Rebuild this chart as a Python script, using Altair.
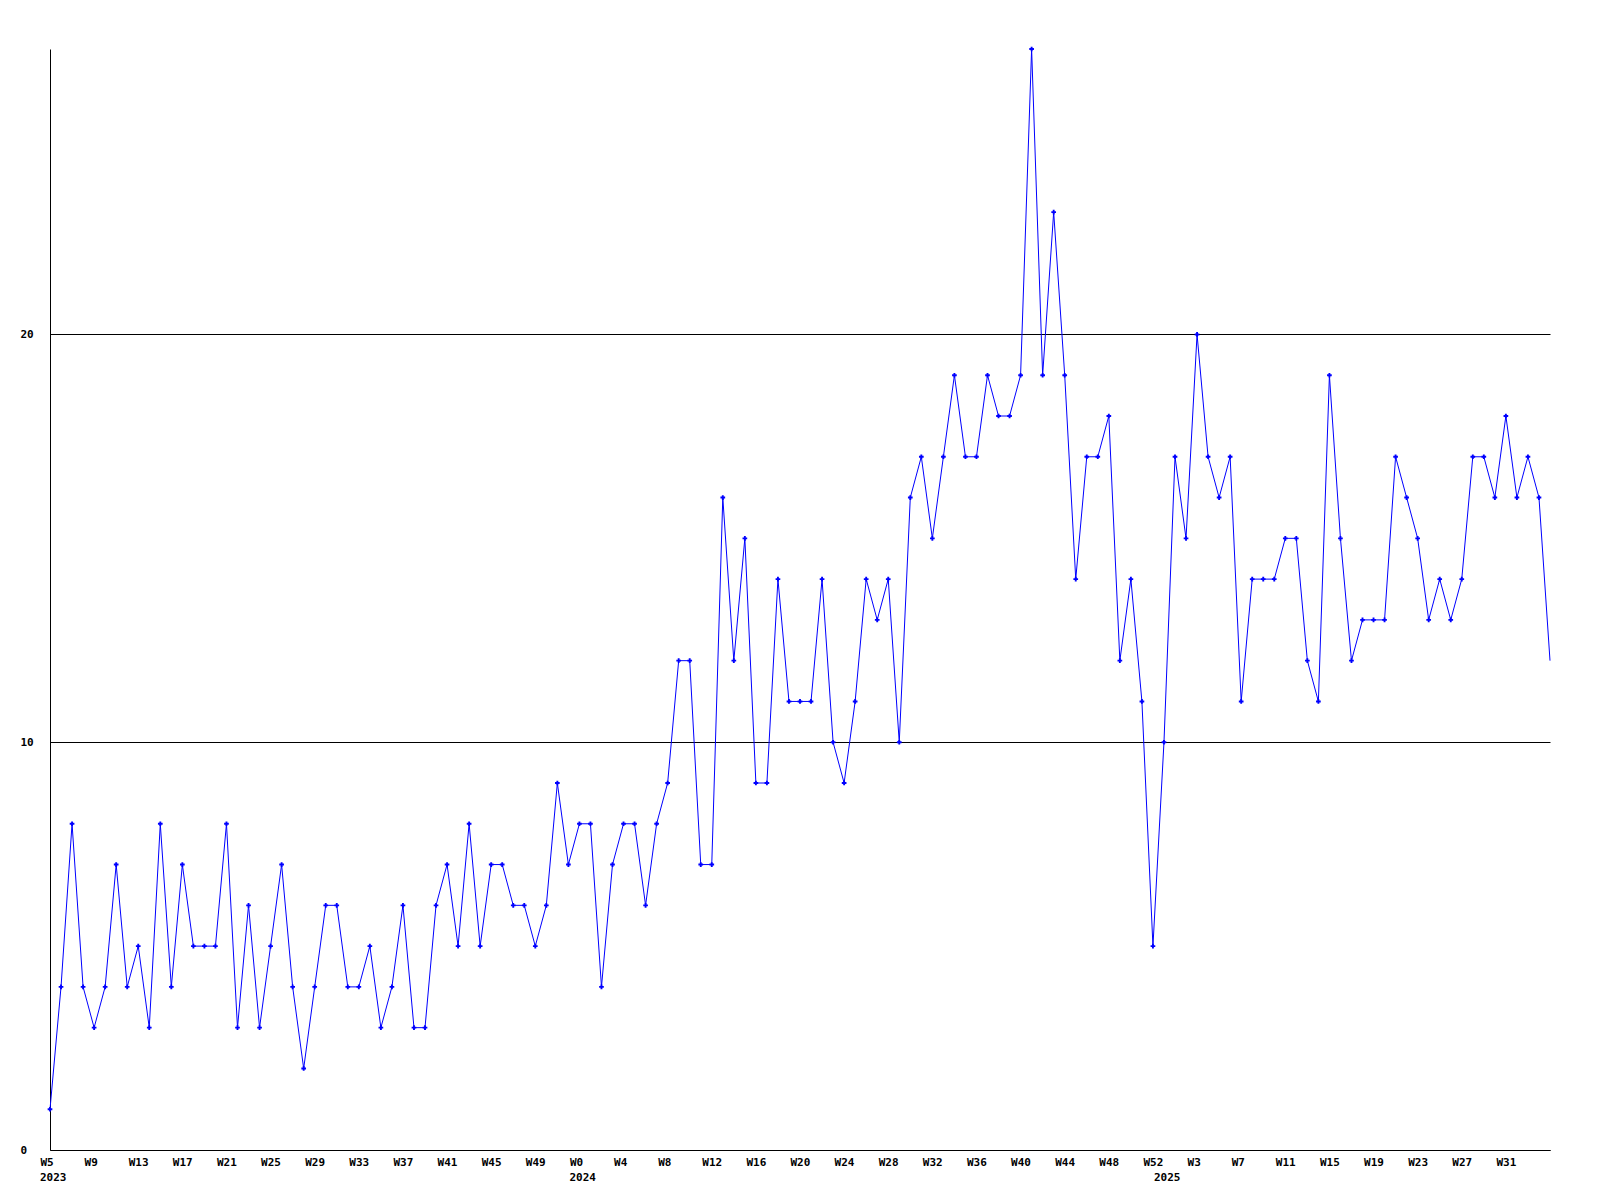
import altair as alt
import pandas as pd

# Weekly counts, 2023 W5 .. 2025 W35 (one value per week)
values = [
    1, 4, 8, 4, 3, 4, 7, 4, 5, 3,
    8, 4, 7, 5, 5, 5, 8, 3, 6, 3,
    5, 7, 4, 2, 4, 6, 6, 4, 4, 5,
    3, 4, 6, 3, 3, 6, 7, 5, 8, 5,
    7, 7, 6, 6, 5, 6, 9, 7, 8, 8,
    4, 7, 8, 8, 6, 8, 9, 12, 12, 7,
    7, 16, 12, 15, 9, 9, 14, 11, 11, 11,
    14, 10, 9, 11, 14, 13, 14, 10, 16, 17,
    15, 17, 19, 17, 17, 19, 18, 18, 19, 27,
    19, 23, 19, 14, 17, 17, 18, 12, 14, 11,
    5, 10, 17, 15, 20, 17, 16, 17, 11, 14,
    14, 14, 15, 15, 12, 11, 19, 15, 12, 13,
    13, 13, 17, 16, 15, 13, 14, 13, 14, 17,
    17, 16, 18, 16, 17, 16, 12,
]

tick_labels = [
    "W5", "W9", "W13", "W17", "W21", "W25", "W29", "W33", "W37", "W41", "W45", "W49",
    "W0", "W4", "W8", "W12", "W16", "W20", "W24", "W28", "W32", "W36", "W40", "W44", "W48", "W52",
    "W3", "W7", "W11", "W15", "W19", "W23", "W27", "W31",
]
tick_step = 4

year_labels = ["2023", "2024", "2025"]
year_start_idx = [0, 48, 101]

y_ticks = [0, 10, 20]
y_max = 27

FONT = "DejaVu Sans Mono"
BLUE = "#0000ff"

n = len(values)
df = pd.DataFrame({"idx": list(range(n)), "value": values})
years_df = pd.DataFrame({"idx": year_start_idx, "year": year_labels})
tick_idx = [i * tick_step for i in range(len(tick_labels))]

label_js = "[" + ",".join("'%s'" % t for t in tick_labels) + "][round(datum.value / %d)]" % tick_step

x_scale = alt.Scale(domain=[0, n - 1], nice=False, zero=False)

x_axis = alt.Axis(
    values=tick_idx, labelExpr=label_js, grid=False, ticks=False, tickSize=0,
    domainColor="black", domainWidth=1, labelFont=FONT, labelFontSize=11,
    labelFontWeight="bold", labelColor="black", labelPadding=6,
    labelOverlap=False, labelFlush=False, labelAlign="left", labelOffset=-10,
    title=None,
)
y_axis = alt.Axis(
    values=y_ticks, grid=True, gridColor="black", gridOpacity=1, gridWidth=1,
    ticks=False, tickSize=0, domainColor="black", domainWidth=1,
    labelFont=FONT, labelFontSize=11, labelFontWeight="bold", labelColor="black",
    labelAlign="left", labelPadding=30, labelFlush=False, title=None,
)

base = alt.Chart(df)

line = base.mark_line(color=BLUE, strokeWidth=1, interpolate="linear").encode(
    x=alt.X("idx:Q", scale=x_scale, axis=x_axis),
    y=alt.Y("value:Q", scale=alt.Scale(domain=[0, y_max], nice=False), axis=y_axis),
)

points = base.mark_point(shape="cross", size=22, filled=True, color=BLUE, opacity=1).encode(
    x=alt.X("idx:Q", scale=x_scale),
    y=alt.Y("value:Q"),
).transform_filter(alt.datum.idx < n - 1)

years = alt.Chart(years_df).mark_text(
    font=FONT, fontSize=11, fontWeight="bold", color="black",
    align="left", baseline="top", dx=-10,
).encode(
    x=alt.X("idx:Q", scale=x_scale),
    y=alt.value(1123),
    text="year:N",
)

chart = alt.layer(line, points, years).properties(
    width=1500,
    height=1101,
    padding={"left": 42, "top": 41, "right": 12, "bottom": 40},
    autosize=alt.AutoSizeParams(type="none"),
    background="white",
).configure_view(stroke=None)

chart.save("out.html", embed_options={"renderer": "svg", "actions": False})
